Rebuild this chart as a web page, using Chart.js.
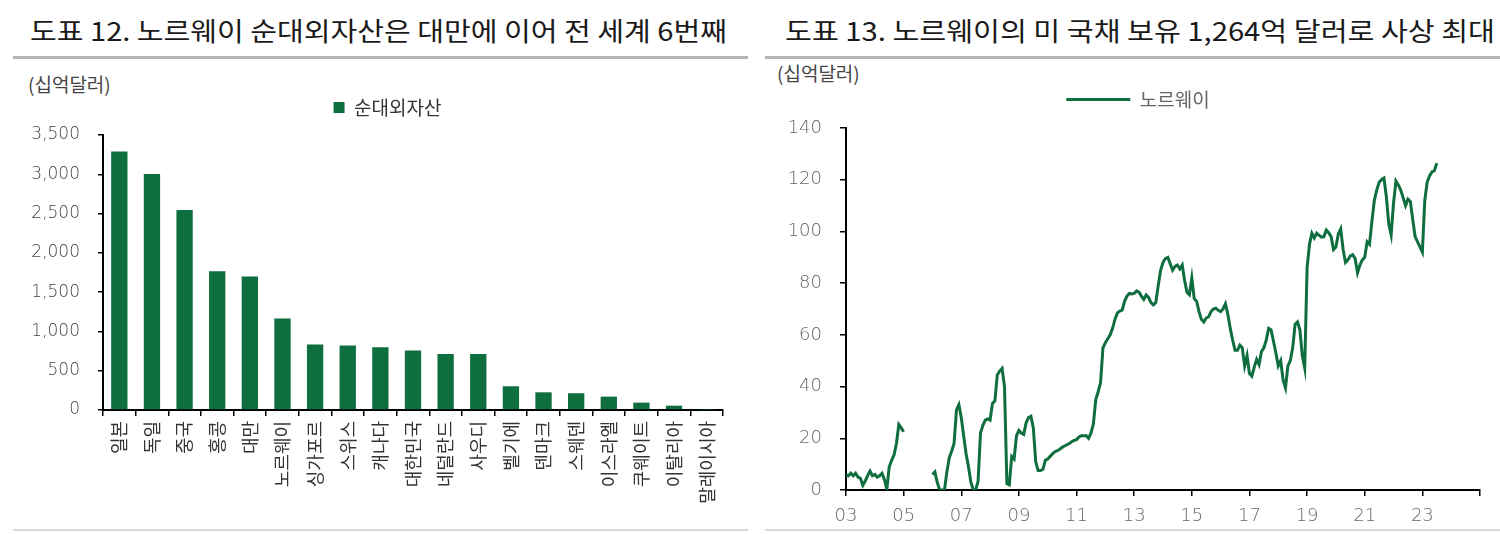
<!DOCTYPE html>
<html>
<head>
<meta charset="utf-8">
<script src="https://cdn.jsdelivr.net/npm/chart.js@4.4.0/dist/chart.umd.min.js"></script>
<style>
body { margin: 0; background: #fff; width: 1500px; height: 534px; position: relative; overflow: hidden; font-family: "Noto Sans CJK KR", sans-serif; }
.title { position: absolute; top: 10px; font-size: 26px; line-height: 40px; white-space: nowrap; color: #1a1a1a; transform-origin: 0 0; }
.rule { position: absolute; top: 56px; height: 3px; background: #b4b4b4; }
.foot { position: absolute; top: 529px; height: 2px; background: #d8d8d8; }
.unit { position: absolute; font-size: 19px; line-height: 24px; color: #444; }
.panel { position: absolute; top: 60px; }
</style>
</head>
<body>
<div class="title" id="t1" style="left:30px">도표 12. 노르웨이 순대외자산은 대만에 이어 전 세계 6번째</div>
<div class="title" id="t2" style="left:785px">도표 13. 노르웨이의 미 국채 보유 1,264억 달러로 사상 최대</div>
<div class="rule" style="left:13px;width:735px"></div>
<div class="rule" style="left:765px;width:735px"></div>
<div class="foot" style="left:13px;width:735px"></div>
<div class="foot" style="left:765px;width:735px"></div>
<div class="unit" style="left:28px;top:72px">(십억달러)</div>
<div class="unit" style="left:777px;top:61px">(십억달러)</div>
<canvas class="panel" id="nfa_chart" width="750" height="474" style="left:0px"></canvas>
<canvas class="panel" id="ust_chart" width="750" height="474" style="left:750px"></canvas>
<script>
// 도표 12 - 순대외자산 (십억달러)
var countries = ["일본", "독일", "중국", "홍콩", "대만", "노르웨이", "싱가포르", "스위스", "캐나다", "대한민국",
    "네덜란드", "사우디", "벨기에", "덴마크", "스웨덴", "이스라엘", "쿠웨이트", "이탈리아", "말레이시아"];
var netAssets = [3290, 3005, 2545, 1765, 1700, 1165, 835, 820, 800, 757,
    714, 714, 302, 225, 213, 170, 94, 55, 5];

// 도표 13 - 노르웨이 미 국채 보유 (십억달러), 월별 2003.01 ~ 2023.07
var startYear = 2003;
var norwayUST = [
    6, 5.5, 6.5, 5.5, 6.5, 5, 4.5, 1.8, 3.5, 5.5, 7.3, 5.5,           // 03
    6, 5, 5.5, 6.5, 4, 0.2, 9, 11.5, 13.5, 18, 25.3, 24,              // 04
    22.5, null, null, null, null, null, null, null, null, null, null, null, // 05
    6, 7, 3, 0, 0, 0, 7, 12.5, 15, 18, 31, 33,                        // 06
    28, 21, 14, 9, 3, 0, 0, 3.4, 22, 25, 27, 27.5,                    // 07
    27, 33.5, 34.5, 44.5, 46, 47, 40, 2.5, 2, 13, 12, 21,             // 08
    23, 22, 21.5, 26, 28, 28.5, 24, 11, 7.5, 7.5, 8, 11.5,            // 09
    12, 13, 14, 14.8, 15.2, 15.8, 16.5, 17, 17.5, 18, 18.7, 19.2,     // 10
    19.5, 20.5, 21, 21, 21, 20, 22, 25.5, 35, 38, 41.5, 55,           // 11
    57, 58.5, 60, 62.5, 66, 68.5, 69.2, 69.6, 73, 75, 76, 75.8,       // 12
    76, 77, 76.5, 75, 73.7, 75.4, 74.5, 72.5, 71.6, 72.5, 79, 85,     // 13
    88, 89.5, 90, 87.5, 85, 86.5, 87, 85.5, 87, 81, 76.5, 75.5,       // 14
    82, 74, 73, 69, 66, 65, 66.5, 67, 69, 70, 70.3, 69.5,             // 15
    69, 70, 72, 68, 62.5, 58, 54, 54, 56, 55, 48, 52,                 // 16
    45, 44, 47.5, 50.5, 48.5, 53.5, 55, 58, 62.5, 62, 57.5, 53,       // 17
    48, 50, 42.6, 39.5, 48, 50, 55, 64, 65, 62, 52, 47.2,             // 18
    86, 95, 99.3, 97.5, 99.3, 98.5, 97.8, 98, 100.5, 99.5, 98, 93,    // 19
    94, 99, 101, 93, 88, 89, 90.5, 91, 89.5, 84, 87, 89,              // 20
    90, 96, 95, 104, 112, 116, 119, 120, 120.6, 113.5, 103, 98.7,     // 21
    111, 119.5, 118, 116, 113, 110, 112.5, 111.6, 104.5, 98, 96, 94,  // 22
    92, 112, 119, 121.5, 123, 123.5, 126.4                            // 23
];
var yearTicksMin = 2003;
var yearTicksMax = 2025;

var green = "#0e6e3e";
var numFont = { family: "DejaVu Sans", size: 17, weight: "200" };
var krFont = { family: "Noto Sans CJK KR", size: 19 };

// fit the titles to the width they take in the report
function fitTitle(id, target) {
    var el = document.getElementById(id);
    var w = el.getBoundingClientRect().width;
    el.style.transform = "scaleX(" + (target / w) + ")";
}
fitTitle("t1", 697);
fitTitle("t2", 710);

// extra room between the legend and the plot, and a sideways nudge
var legendGap = {
    id: "legendGap",
    beforeInit: function(chart, args, opts) {
        var fit = chart.legend.fit;
        chart.legend.fit = function() {
            fit.bind(chart.legend)();
            this.height += opts.gap || 0;
        };
    },
    afterLayout: function(chart, args, opts) {
        chart.legend.left += opts.shift || 0;
        chart.legend.right += opts.shift || 0;
    },
};

var nfaChart = new Chart(document.getElementById("nfa_chart"), {
    type: "bar",
    data: {
        labels: countries,
        datasets: [{
            label: "순대외자산",
            data: netAssets,
            backgroundColor: green,
            barPercentage: 0.5,
            categoryPercentage: 1.0,
        }, ],
    },
    plugins: [legendGap],
    options: {
        responsive: false,
        animation: false,
        layout: { padding: { top: 19, right: 27, left: 0, bottom: 0 } },
        plugins: {
            legendGap: { gap: 8, shift: 26 },
            legend: {
                labels: { boxWidth: 11, boxHeight: 11, padding: 19, color: "#333", font: krFont },
            },
            tooltip: { enabled: false },
        },
        scales: {
            x: {
                afterFit: function(scale) { scale.height = 124; },
                grid: { display: true, drawOnChartArea: false, color: "#000", tickLength: 6, lineWidth: 1.5 },
                border: { display: true, color: "#000", width: 2 },
                ticks: { autoSkip: false, minRotation: 90, maxRotation: 90, padding: 5, color: "#333",
                    font: { family: "Noto Sans CJK KR", size: 18 } },
            },
            y: {
                min: 0,
                max: 3500,
                afterFit: function(scale) { scale.width = 103; },
                grid: { display: true, drawOnChartArea: false, color: "#000", tickLength: 5, lineWidth: 1.5 },
                border: { display: true, color: "#000", width: 2 },
                ticks: { stepSize: 500, padding: 18, color: "#444", font: numFont },
            },
        },
    },
});

var ustPoints = [];
for (var i = 0; i < norwayUST.length; i++) {
    ustPoints.push({ x: startYear + i / 12, y: norwayUST[i] });
}

var ustChart = new Chart(document.getElementById("ust_chart"), {
    type: "line",
    data: {
        datasets: [{
            label: "노르웨이",
            data: ustPoints,
            borderColor: green,
            backgroundColor: green,
            borderWidth: 3,
            pointRadius: 0,
            tension: 0,
            spanGaps: false,
        }, ],
    },
    plugins: [legendGap],
    options: {
        responsive: false,
        animation: false,
        layout: { padding: { top: 10, right: 20, left: 0, bottom: 0 } },
        plugins: {
            legendGap: { gap: 9, shift: 23 },
            legend: {
                labels: {
                    boxWidth: 64,
                    boxHeight: 3,
                    padding: 20,
                    color: "#666",
                    font: krFont,
                    generateLabels: function(chart) {
                        var items = Chart.defaults.plugins.legend.labels.generateLabels(chart);
                        items.forEach(function(it) { it.lineWidth = 0; it.fillStyle = green; });
                        return items;
                    },
                },
            },
            tooltip: { enabled: false },
        },
        scales: {
            x: {
                type: "linear",
                min: yearTicksMin,
                max: yearTicksMax,
                afterFit: function(scale) { scale.height = 44; },
                grid: { display: true, drawOnChartArea: false, color: "#000", tickLength: 6, lineWidth: 1.5 },
                border: { display: true, color: "#000", width: 2 },
                ticks: {
                    stepSize: 2,
                    padding: 10,
                    color: "#666",
                    font: { family: "DejaVu Sans", size: 18, weight: "200" },
                    callback: function(v) { return v >= yearTicksMax ? "" : String(v).slice(2); },
                },
            },
            y: {
                min: 0,
                max: 140,
                afterFit: function(scale) { scale.width = 96; },
                grid: { display: true, drawOnChartArea: false, color: "#000", tickLength: 6, lineWidth: 1.5 },
                border: { display: true, color: "#000", width: 2 },
                ticks: { stepSize: 20, padding: 18, color: "#666", font: { family: "DejaVu Sans", size: 18, weight: "200" } },
            },
        },
    },
});
</script>
</body>
</html>
